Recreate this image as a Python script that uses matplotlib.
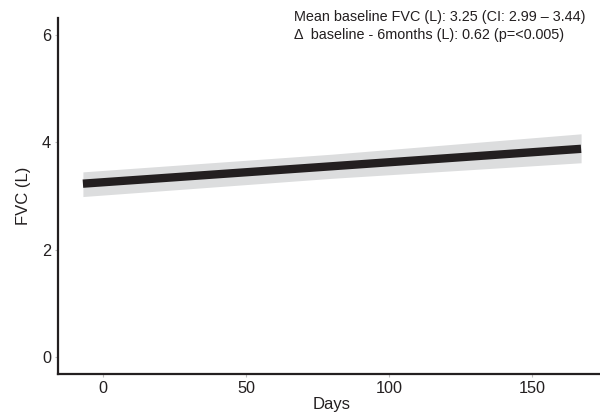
import matplotlib
matplotlib.use("Agg")
import matplotlib.pyplot as plt

plt.rcParams['font.family'] = ['Liberation Sans', 'DejaVu Sans']

days = [-7, 80, 167]
fvc = [3.23, 3.555, 3.88]
lower = [2.99, 3.33, 3.62]
upper = [3.45, 3.78, 4.16]

xticks = [0, 50, 100, 150]
yticks = [0, 2, 4, 6]

annot_lines = ["Mean baseline FVC (L): 3.25 (CI: 2.99 \u2013 3.44)",
               "\u0394  baseline - 6months (L): 0.62 (p=<0.005)"]

fig = plt.figure(figsize=(6.0, 4.18), dpi=100)
ax = fig.add_axes([58/600, 44/418, 548/600, 356/418])

ax.fill_between(days, lower, upper, color='#dcddde', linewidth=0)
ax.plot(days, fvc, color='#231f20', linewidth=6, solid_capstyle='butt')

ax.set_xlim(-15.7, 175.7)
ax.set_ylim(-0.32, 6.32)
ax.set_xticks(xticks)
ax.set_yticks(yticks)
ax.tick_params(axis='both', length=2, width=0.8, color='#bbbbbb',
               labelsize=11.7, labelcolor='#231f20', pad=3)
for s in ['top', 'right']:
    ax.spines[s].set_visible(False)
for s in ['left', 'bottom']:
    ax.spines[s].set_color('#231f20')
    ax.spines[s].set_linewidth(1.6)

ax.set_xlabel('Days', fontsize=12, color='#231f20', labelpad=1)
ax.set_ylabel('FVC (L)', fontsize=12, color='#231f20', labelpad=8)

fig.text(294/600, 1 - 10/418, "\n".join(annot_lines), fontsize=10.4,
         color='#231f20', va='top', ha='left', linespacing=1.35)

fig.savefig('out.png', dpi=100)
